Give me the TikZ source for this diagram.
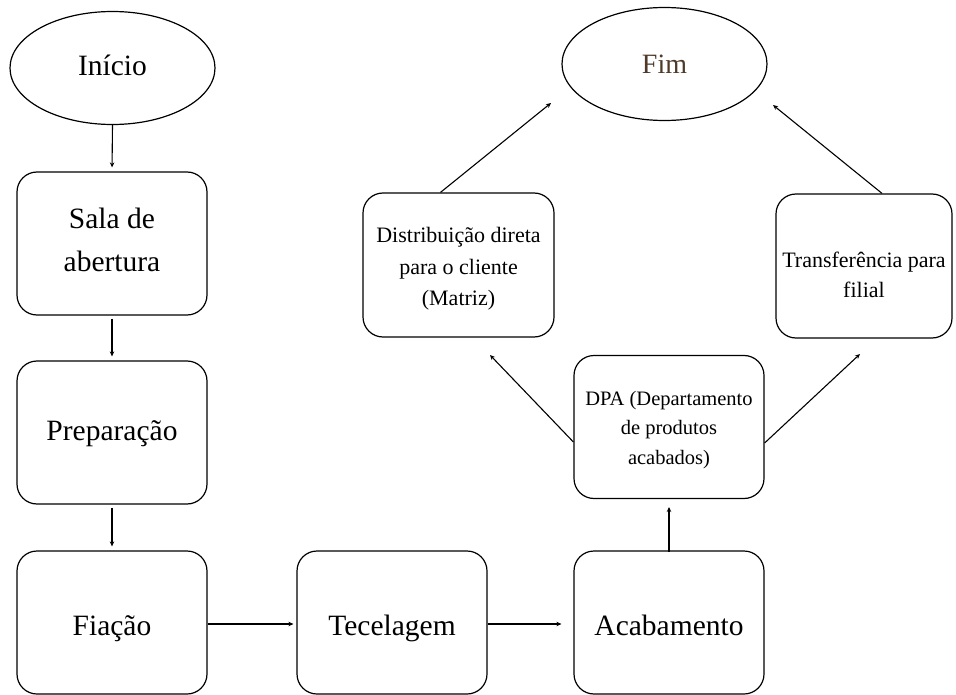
\documentclass[tikz,border=0pt]{standalone}
\usepackage{fontspec}
\setmainfont{Liberation Serif}
\usetikzlibrary{shapes.geometric,arrows.meta,calc}
\definecolor{fimbrown}{HTML}{4F3A2A}
\newcommand{\lowtext}[3]{\raisebox{#1}[0pt][0pt]{\parbox[b]{#2}{\centering #3}}}
\begin{document}
\begin{tikzpicture}[x=1pt,y=-1pt,
  box/.style={draw, line width=1.2pt, rounded corners=20pt, minimum width=190pt, minimum height=143pt, inner sep=0pt},
  big/.style={font=\fontsize{29.5}{43}\selectfont},
  small/.style={font=\fontsize{22}{31.5}\selectfont},
  oval/.style={draw, line width=1.2pt, ellipse, minimum width=205pt, minimum height=113pt, inner sep=0pt},
  conn/.style={line width=1.1pt, -{Stealth[length=5pt,width=4.5pt]}}
]
\useasboundingbox (0,0) rectangle (956,695);
\node[oval, big, text height=16pt, text depth=0pt] (inicio) at (112.5,68) {Início};
\node[oval, font=\fontsize{28}{34}\selectfont, text=fimbrown, text height=20pt, text depth=0pt] (fim) at (664.5,64) {Fim};
\node[box, big] (sala) at (112,243.5) {\lowtext{-28.5pt}{190pt}{Sala de\\abertura}};
\node[box, big, text height=15pt, text depth=0pt] (prep) at (112,432.5) {Preparação};
\node[box, big, text height=25pt, text depth=0pt] (fiacao) at (112,622.5) {Fiação};
\node[box, big, text height=25pt, text depth=0pt] (tece) at (392,622.5) {Tecelagem};
\node[box, big, text height=25pt, text depth=0pt] (acab) at (669,622.5) {Acabamento};
\node[box, font=\fontsize{20.5}{29.5}\selectfont] (dpa) at (669,427) {\lowtext{-37pt}{190pt}{DPA (Departamento\\de produtos\\acabados)}};
\node[box, small, minimum width=191pt, minimum height=144pt] (dist) at (458.5,265) {\lowtext{-41pt}{191pt}{Distribuição direta\\para o cliente\\(Matriz)}};
\node[box, font=\fontsize{22}{31}\selectfont, minimum width=176pt, minimum height=144pt] (transf) at (864,266) {\lowtext{-32pt}{176pt}{Transferência para\\filial}};
\coordinate (dd) at (490,355);
\coordinate (dt) at (860,354);
\coordinate (fl) at (551,103);
\coordinate (fr) at (773,105);
\draw[conn, shorten >=4pt] (inicio.south) -- (sala.north);
\draw[conn, shorten <=3pt, shorten >=4pt] (sala.south) -- (prep.north);
\draw[conn, shorten <=3pt, shorten >=4pt] (prep.south) -- (fiacao.north);
\draw[conn, shorten >=3pt] (fiacao.east |- 0,624) -- (tece.west |- 0,624);
\draw[conn, shorten >=12pt] (tece.east |- 0,624) -- (acab.west |- 0,624);
\draw[conn, shorten >=8pt] (acab.north |- 0,552) -- (dpa.south |- 0,499);
\draw[conn] ($(dpa.west)+(0,15)$) -- (dd);
\draw[conn] ($(dpa.east)+(0,16)$) -- (dt);
\draw[conn] ($(dist.north)+(-18,0)$) -- (fl);
\draw[conn] ($(transf.north)+(18,0)$) -- (fr);
\end{tikzpicture}
\end{document}
